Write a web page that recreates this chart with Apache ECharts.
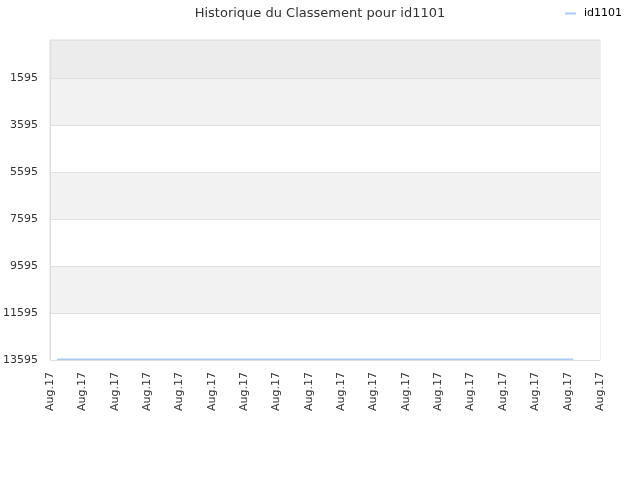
<!DOCTYPE html>
<html>
<head>
    <meta charset="utf-8">
    <title>Historique du Classement pour id1101</title>
    <script src="https://cdn.jsdelivr.net/npm/echarts@6/dist/echarts.min.js"></script>
    <style>
        html, body { margin: 0; padding: 0; background: #fff; }
        #main { width: 640px; height: 480px; }
    </style>
</head>
<body>
<div id="main"></div>
<script>
// position des jours sur l'axe (1 unité = 1 graduation)
var jours = [0.22, 4, 8, 12, 16.17];
var classement = [13560, 13560, 13560, 13560, 13560];
// graduations
var xTicks = [0, 1, 2, 3, 4, 5, 6, 7, 8, 9, 10, 11, 12, 13, 14, 15, 16, 17];
var xLabel = 'Aug.17';
var yTicks = [1595, 3595, 5595, 7595, 9595, 11595, 13595];
var yMin = -24;
var yMax = 13595;

var chart = echarts.init(document.getElementById('main'));

var option = {
    animation: false,
    textStyle: { fontFamily: 'DejaVu Sans' },
    title: {
        text: 'Historique du Classement pour id1101',
        left: 'center',
        top: 2,
        textStyle: { fontSize: 13, fontWeight: 'normal', color: '#333', fontFamily: 'DejaVu Sans' }
    },
    legend: {
        data: ['id1101'],
        right: 13,
        top: 3,
        itemWidth: 11,
        itemHeight: 2,
        itemGap: 4,
        icon: 'rect',
        textStyle: { fontSize: 11, color: '#000', fontFamily: 'DejaVu Sans', padding: [0, 0, 0, 3] }
    },
    grid: {
        left: 50,
        right: 40,
        top: 40,
        bottom: 120,
        containLabel: false,
        outerBoundsMode: 'none',
        show: true,
        borderColor: '#ddd',
        borderWidth: 1,
        backgroundColor: 'transparent'
    },
    xAxis: {
        type: 'value',
        min: 0,
        max: 17,
        interval: 1,
        axisLine: { show: false },
        axisTick: { show: false },
        splitLine: { show: false },
        axisLabel: {
            rotate: 90,
            margin: 12,
            fontSize: 11,
            color: '#333',
            showMinLabel: true,
            showMaxLabel: true,
            customValues: xTicks,
            formatter: function () { return xLabel; }
        }
    },
    yAxis: {
        type: 'value',
        inverse: true,
        min: yMin,
        max: yMax,
        axisLine: { show: true, lineStyle: { color: '#ddd' } },
        axisTick: { show: false, customValues: [yMin].concat(yTicks) },
        axisLabel: {
            customValues: yTicks,
            fontSize: 11,
            color: '#333',
            margin: 12,
            formatter: function (v) { return String(v); }
        },
        splitLine: { show: true, lineStyle: { color: '#e0e0e0' } },
        splitArea: {
            show: true,
            areaStyle: { color: ['#ececec', '#f2f2f2', '#ffffff', '#f2f2f2', '#ffffff', '#f2f2f2', '#ffffff'] }
        }
    },
    series: [{
        name: 'id1101',
        type: 'line',
        symbol: 'none',
        color: '#a8cbee',
        lineStyle: { width: 1.5, color: '#a8cbee' },
        data: jours.map(function (j, i) { return [j, classement[i]]; })
    }]
};
chart.setOption(option);
</script>
</body>
</html>
